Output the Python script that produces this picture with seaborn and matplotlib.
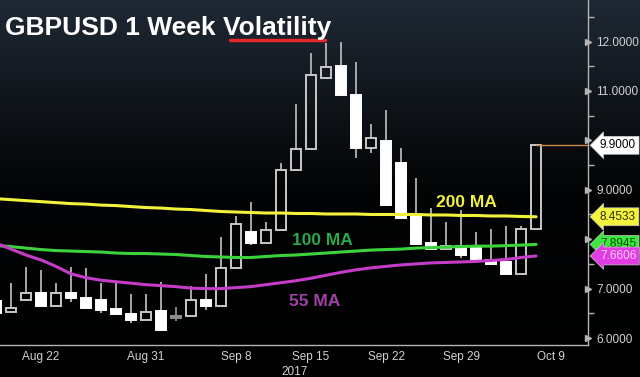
import numpy as np
import pandas as pd
import seaborn as sns
import matplotlib.pyplot as plt
from matplotlib.colors import LinearSegmentedColormap
from matplotlib.ticker import MultipleLocator, FuncFormatter

# daily candles, business days 17 Aug - 6 Oct 2017
dates = pd.bdate_range("2017-08-17", "2017-10-06")
opens = [6.74, 6.52, 6.77, 6.92, 6.64, 6.92, 6.82, 6.77, 6.58, 6.48,
         6.36, 6.55, 6.45, 6.44, 6.76, 6.64, 7.41, 8.14, 7.92, 8.19,
         9.41, 9.83, 11.26, 11.50, 10.92, 9.85, 9.99, 9.54, 8.46, 7.93,
         7.80, 7.86, 7.86, 7.58, 7.54, 7.29, 8.20]
highs = [7.05, 7.11, 7.44, 7.38, 7.12, 7.44, 7.42, 7.11, 7.14, 6.90,
         6.90, 7.14, 6.63, 7.05, 7.30, 8.05, 8.46, 8.76, 8.34, 9.54,
         10.74, 11.76, 11.98, 12.00, 11.58, 10.34, 10.62, 9.84, 9.23, 8.63,
         8.34, 8.60, 8.14, 8.20, 8.27, 8.27, 9.90]
lows = [6.48, 6.52, 6.77, 6.64, 6.64, 6.735, 6.60, 6.50, 6.48, 6.31,
        6.36, 6.15, 6.35, 6.44, 6.57, 6.64, 7.41, 7.88, 7.92, 8.19,
        9.41, 9.80, 11.26, 10.92, 9.64, 9.74, 8.67, 8.42, 7.88, 7.80,
        7.80, 7.61, 7.59, 7.50, 7.29, 7.29, 8.20]
closes = [6.51, 6.60, 6.92, 6.64, 6.92, 6.80, 6.60, 6.57, 6.48, 6.36,
          6.53, 6.16, 6.41, 6.76, 6.64, 7.41, 8.30, 7.92, 8.19, 9.41,
          9.82, 11.32, 11.48, 10.92, 9.84, 10.04, 8.69, 8.42, 7.90, 7.80,
          7.87, 7.68, 7.59, 7.50, 7.29, 8.20, 9.90]

ma200 = [8.82, 8.80, 8.78, 8.76, 8.74, 8.72, 8.71, 8.69, 8.68, 8.66,
         8.64, 8.63, 8.61, 8.60, 8.58, 8.56, 8.55, 8.54, 8.53, 8.53,
         8.52, 8.52, 8.51, 8.51, 8.51, 8.50, 8.50, 8.50, 8.50, 8.49,
         8.49, 8.48, 8.48, 8.47, 8.47, 8.46, 8.4533]
ma100 = [7.87, 7.85, 7.82, 7.79, 7.77, 7.76, 7.75, 7.74, 7.72, 7.71,
         7.71, 7.70, 7.69, 7.67, 7.65, 7.64, 7.63, 7.63, 7.65, 7.67,
         7.68, 7.70, 7.72, 7.74, 7.76, 7.78, 7.79, 7.80, 7.82, 7.83,
         7.84, 7.85, 7.86, 7.86, 7.87, 7.88, 7.8945]
ma55 = [7.92, 7.80, 7.68, 7.58, 7.45, 7.30, 7.22, 7.17, 7.14, 7.11,
        7.08, 7.06, 7.04, 7.01, 7.00, 7.00, 7.02, 7.04, 7.08, 7.12,
        7.16, 7.21, 7.27, 7.33, 7.38, 7.42, 7.45, 7.48, 7.50, 7.52,
        7.53, 7.54, 7.55, 7.57, 7.59, 7.63, 7.6606]

tick_dates = ["2017-08-22", "2017-08-31", "2017-09-08", "2017-09-15",
              "2017-09-22", "2017-09-29", "2017-10-09"]
tick_labels = ["Aug 22", "Aug 31", "Sep 8", "Sep 15", "Sep 22", "Sep 29", "Oct 9"]
hidden_levels = [8, 10]   # axis labels covered by the value boxes

sns.set_theme(style="dark")
plt.rcParams['font.family'] = ['Liberation Sans', 'DejaVu Sans']

fig = plt.figure(figsize=(6.4, 3.77), dpi=100)

# background gradient: dark slate at the top fading to black
bg = fig.add_axes([0, 0, 1, 1], zorder=-1)
cmap = LinearSegmentedColormap.from_list("bg", ["#000000", "#030405", "#1f2934"])
bg.imshow(np.linspace(1, 0, 256).reshape(-1, 1), aspect='auto', cmap=cmap,
          extent=[0, 1, 0, 1])
bg.axis('off')

ax = fig.add_axes([0, 0.085, 0.919, 0.915])
ax.set_facecolor('none')

x = np.arange(len(dates))
o = np.array(opens)
c = np.array(closes)
h = np.array(highs)
l = np.array(lows)
top = np.maximum(o, c)
bot = np.minimum(o, c)
up = c > o
doji = np.abs(c - o) <= 0.05

# wicks (not through the bodies)
wick_col = np.where(doji, '#8c8c8c', '#b4b4b4')
ax.vlines(x, top, h, colors=wick_col, lw=1.3, zorder=2)
ax.vlines(x, l, bot, colors=wick_col, lw=1.3, zorder=2)

# bodies
face = np.where(doji, '#8c8c8c', np.where(up, 'none', '#ffffff'))
edge = np.where(doji, '#8c8c8c', np.where(up, '#c8c8c8', '#ffffff'))
for xi, b, hh, fc, ec in zip(x, bot, top - bot, face, edge):
    ax.bar(xi, hh, bottom=b, width=0.72, facecolor=fc, edgecolor=ec,
           linewidth=1.4, zorder=2)

# moving averages
ma_df = pd.DataFrame({
    "x": np.concatenate([x, x, x]),
    "value": ma200 + ma100 + ma55,
    "ma": ["200 MA"] * len(x) + ["100 MA"] * len(x) + ["55 MA"] * len(x),
})
sns.lineplot(data=ma_df, x="x", y="value", hue="ma",
             palette={"200 MA": "#f2f23a", "100 MA": "#3cd23c", "55 MA": "#c43cc8"},
             linewidth=2.2, legend=False, ax=ax, zorder=3)

ax.text(29.3, 8.75, "200 MA", color="#f0f040", fontsize=12.5, fontweight='bold',
        va='center', zorder=4)
ax.text(19.7, 7.98, "100 MA", color="#2aa84a", fontsize=12.5, fontweight='bold',
        va='center', zorder=4)
ax.text(19.5, 6.73, "55 MA", color="#a040a8", fontsize=12.5, fontweight='bold',
        va='center', zorder=4)

x_min, x_max = 0.27, 39.47
ax.set_xlim(x_min, x_max)
ax.set_ylim(5.86, 12.84)

# last value line to the axis
ax.hlines(closes[-1], x[-1], x_max, color='#d08a4a', lw=1, zorder=2)

# right axis
ax.yaxis.tick_right()
ax.yaxis.set_major_locator(MultipleLocator(1))
ax.yaxis.set_minor_locator(MultipleLocator(0.5))
ax.yaxis.set_major_formatter(FuncFormatter(
    lambda v, p: '' if round(v) in hidden_levels else f"{v:.4f}"))
ax.tick_params(axis='y', which='major', colors='#b4b4b4', labelcolor='#d2d2d2',
               labelsize=8.5, length=4, width=1, direction='out', pad=2)
ax.tick_params(axis='y', which='minor', colors='#b4b4b4', length=4, width=1,
               direction='out')
for t in ax.yaxis.get_major_ticks():
    t.tick2line.set_marker('>')
    t.tick2line.set_markersize(4)
ax.set_ylabel('')

# x axis
all_days = pd.bdate_range("2017-08-17", "2017-10-13")
tick_pos = [all_days.get_loc(pd.Timestamp(d)) for d in tick_dates]
ax.set_xticks(tick_pos)
ax.set_xticklabels(tick_labels)
ax.set_xticks(np.arange(1, 40, 2), minor=True)
ax.tick_params(axis='x', which='both', colors='#b4b4b4', labelcolor='#d2d2d2',
               labelsize=8.5, length=3, width=1, direction='out', pad=1)
ax.set_xlabel('')
ax.text(19.9, -0.077, "2017", transform=ax.get_xaxis_transform(), ha='center',
        va='center', color='#d2d2d2', fontsize=8.5)

for s in ['top', 'left']:
    ax.spines[s].set_visible(False)
for s in ['right', 'bottom']:
    ax.spines[s].set_visible(True)
    ax.spines[s].set_color('#b4b4b4')
    ax.spines[s].set_linewidth(1)
ax.grid(False)

# value boxes on the right axis
boxes = [(closes[-1], '#ffffff', '#000000'),
         (ma200[-1], '#f4f43c', '#303000'),
         (ma100[-1], '#3ce63c', '#0a500a'),
         (ma55[-1], '#e43ce4', '#ffd0ff')]
for val, bcol, tcol in boxes:
    ax.text(1.02, val, f"{val:.4f}", transform=ax.get_yaxis_transform(),
            ha='left', va='center', fontsize=8.5, color=tcol, zorder=5,
            clip_on=False,
            bbox=dict(boxstyle='larrow,pad=0.25', fc=bcol, ec='#c8c8c8', lw=0.5))

# title with red underline under "Volatility"
fig.text(0.008, 0.907, "GBPUSD 1 Week Volatility", color='white', fontsize=19,
         fontweight='bold', va='baseline')
fig.add_artist(plt.Line2D([230 / 640, 325 / 640], [1 - 39.5 / 377] * 2,
                          transform=fig.transFigure, color='#e0282d', lw=2.5))

fig.savefig("out.png", dpi=100, facecolor='black')
